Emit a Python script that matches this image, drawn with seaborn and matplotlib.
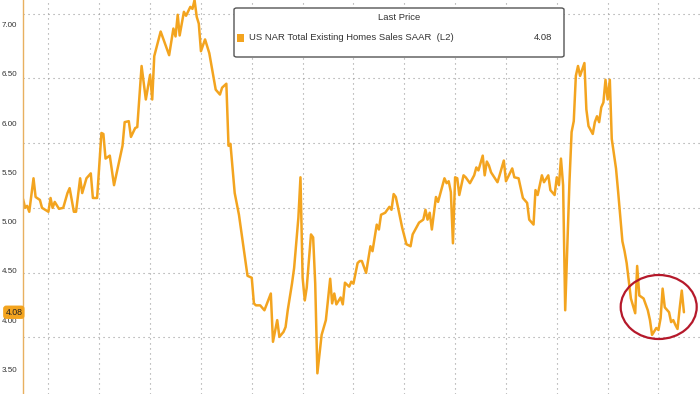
import pandas as pd
import numpy as np
import matplotlib
matplotlib.use('Agg')
import matplotlib.pyplot as plt
from matplotlib.patches import Ellipse, FancyBboxPatch, Rectangle
import seaborn as sns

# 月次インデックス (1999年1月 = 0) と販売戸数 (百万戸, SAAR)
month_idx = [
    0, 1, 2, 3, 5, 6, 8, 9, 12, 13, 14, 15, 17, 19, 21, 22, 24, 25, 27, 28,
    30, 32, 33, 35, 37, 38, 39, 41, 43, 47, 48, 50, 51, 53, 54, 56, 58, 60, 61, 62,
    65, 69, 71, 72, 73, 74, 76, 77, 79, 80, 81, 82, 83, 84, 86, 88, 91, 93, 94, 96,
    97, 98, 100, 102, 106, 108, 109, 110, 112, 114, 117, 118, 120, 121, 123, 124, 125, 127, 128, 130,
    131, 132, 133, 134, 136, 137, 138, 139, 141, 143, 145, 146, 147, 148, 150, 151, 152, 154, 155, 156,
    158, 159, 160, 162, 164, 165, 167, 168, 169, 171, 173, 174, 175, 176, 177, 179, 181, 183, 184, 186,
    187, 189, 190, 191, 192, 193, 195, 196, 199, 200, 201, 202, 203, 204, 205, 206, 208, 209, 211, 213,
    214, 215, 217, 218, 219, 220, 221, 224, 225, 227, 228, 231, 232, 234, 236, 238, 239, 241, 242, 243,
    245, 246, 248, 249, 251, 252, 253, 254, 255, 256, 258, 259, 260, 261, 262, 263, 265, 266, 267, 269,
    270, 271, 272, 273, 274, 275, 276, 277, 278, 280, 281, 283, 284, 285, 287, 289, 290, 291, 293, 295,
    296, 297, 299, 300, 301, 302, 303, 305, 306, 307, 308, 309, 310, 311, 312,
]
sales = [
    5.23, 5.14, 5.16, 5.10, 5.44, 5.25, 5.22, 5.14, 5.10, 5.24, 5.14, 5.20, 5.13, 5.14, 5.29, 5.34, 5.10, 5.10, 5.44, 5.29,
    5.44, 5.49, 5.24, 5.24, 5.90, 5.89, 5.64, 5.67, 5.37, 5.77, 6.01, 6.02, 5.86, 5.95, 5.96, 6.58, 6.24, 6.49, 6.24, 6.68,
    6.93, 6.69, 6.96, 6.88, 7.10, 6.89, 7.13, 7.09, 7.18, 7.16, 7.25, 7.08, 7.01, 6.73, 6.85, 6.71, 6.34, 6.29, 6.36, 6.40,
    5.77, 5.79, 5.29, 5.07, 4.45, 4.43, 4.17, 4.15, 4.15, 4.10, 4.27, 3.78, 4.00, 3.83, 3.88, 3.93, 4.10, 4.37, 4.53, 5.04,
    5.45, 4.43, 4.20, 4.33, 4.87, 4.84, 4.37, 3.46, 3.85, 4.00, 4.42, 4.17, 4.27, 4.16, 4.23, 4.16, 4.38, 4.34, 4.39, 4.37,
    4.58, 4.60, 4.60, 4.48, 4.75, 4.70, 4.97, 4.92, 5.07, 5.09, 5.15, 5.12, 5.28, 5.25, 5.15, 4.94, 4.77, 4.75, 4.87, 4.95,
    4.99, 5.02, 5.12, 5.02, 5.09, 4.92, 5.25, 5.20, 5.44, 5.39, 5.41, 5.30, 4.78, 5.45, 5.44, 5.27, 5.47, 5.45, 5.39, 5.47,
    5.55, 5.52, 5.67, 5.47, 5.61, 5.57, 5.50, 5.40, 5.47, 5.62, 5.41, 5.54, 5.45, 5.44, 5.24, 5.19, 5.02, 4.97, 5.32, 5.27,
    5.47, 5.40, 5.47, 5.32, 5.27, 5.45, 5.37, 5.64, 5.37, 4.10, 5.40, 5.91, 6.02, 6.48, 6.58, 6.48, 6.61, 6.14, 5.97, 5.89,
    6.01, 6.07, 6.01, 6.16, 6.21, 6.44, 6.24, 6.44, 5.84, 5.54, 5.30, 4.80, 4.70, 4.58, 4.22, 4.07, 4.55, 4.25, 4.22, 4.10,
    4.00, 3.85, 3.92, 3.90, 4.02, 4.32, 4.13, 4.08, 3.98, 4.00, 3.95, 3.91, 4.12, 4.30, 4.08,
]
y_ticks = [3.50, 4.00, 4.50, 5.00, 5.50, 6.00, 6.50, 7.00]
grid_levels = [3.83, 4.48, 5.14, 5.80, 6.46, 7.11]  # 別軸のグリッド線
grid_years = list(range(2000, 2025, 2))
last_price = 4.08
series_name = 'US NAR Total Existing Homes Sales SAAR  (L2)'

line_color = '#f3a41f'

all_months = pd.date_range('1999-01-01', periods=320, freq='MS')
df = pd.DataFrame({'date': all_months[month_idx], 'sales': sales})

sns.set_style('white')
plt.rcParams['font.family'] = ['Liberation Sans', 'DejaVu Sans']

fig = plt.figure(figsize=(7, 3.94), dpi=100)
ax = fig.add_axes([23 / 700, 0, 1 - 23 / 700, 1])

for g in grid_levels:
    ax.axhline(g, color='#9a9a9a', lw=0.8, ls=(0, (1, 3.5)), zorder=0)
for yr in grid_years:
    ax.axvline(pd.Timestamp(f'{yr}-01-01'), color='#9a9a9a', lw=0.8, ls=(0, (1, 3.5)), zorder=0)

sns.lineplot(data=df, x='date', y='sales', color=line_color, lw=1.8, ax=ax, legend=False)

ax.set_xlim(pd.Timestamp('1999-01-01'), pd.Timestamp('2025-08-20'))
ax.set_ylim(3.255, 7.211)
ax.set_xlabel('')
ax.set_ylabel('')
ax.set_xticks([])
ax.set_yticks(y_ticks)
ax.set_yticklabels([f'{v:.2f}' for v in y_ticks])
ax.set_yticks(np.arange(3.25, 7.3, 0.25), minor=True)
ax.tick_params(axis='y', which='major', direction='out', length=3.5, width=1,
               color=line_color, labelsize=5.8, labelcolor='#333333', pad=0.8)
ax.tick_params(axis='y', which='minor', direction='out', length=2, width=0.8, color=line_color)
for s in ['top', 'right', 'bottom']:
    ax.spines[s].set_visible(False)
ax.spines['left'].set_color('#e8b060')
ax.spines['left'].set_linewidth(1)

# 最新値ラベル
ax.text(-0.001, last_price, f'{last_price:.2f}', transform=ax.get_yaxis_transform(),
        ha='right', va='center', fontsize=6.3, color='#222222', zorder=5,
        bbox=dict(boxstyle='round,pad=0.25,rounding_size=0.35', fc=line_color, ec='none'))

# 凡例ボックス
fig.patches.append(FancyBboxPatch((234 / 700, 1 - 57 / 394), 330 / 700, 49 / 394,
                                  boxstyle='round,pad=0,rounding_size=0.004',
                                  transform=fig.transFigure, fc='white', ec='#555555', lw=1, zorder=10))
fig.text(399 / 700, 1 - 17 / 394, 'Last Price', ha='center', va='center', fontsize=6.8,
         color='#333333', zorder=11)
fig.patches.append(Rectangle((237 / 700, 1 - 42 / 394), 7 / 700, 8 / 394, transform=fig.transFigure,
                             fc=line_color, ec='none', zorder=11))
fig.text(249 / 700, 1 - 38 / 394, series_name, ha='left', va='center', fontsize=6.8,
         color='#333333', zorder=11)
fig.text(552 / 700, 1 - 38 / 394, f'{last_price:.2f}', ha='right', va='center', fontsize=6.8,
         color='#333333', zorder=11)

# 赤い楕円
fig.patches.append(Ellipse((658.7 / 700, 1 - 307 / 394), 76 / 700, 64 / 394,
                           transform=fig.transFigure, fill=False, ec='#b5192b', lw=1.6, zorder=12))

fig.savefig('out.png', dpi=100)
